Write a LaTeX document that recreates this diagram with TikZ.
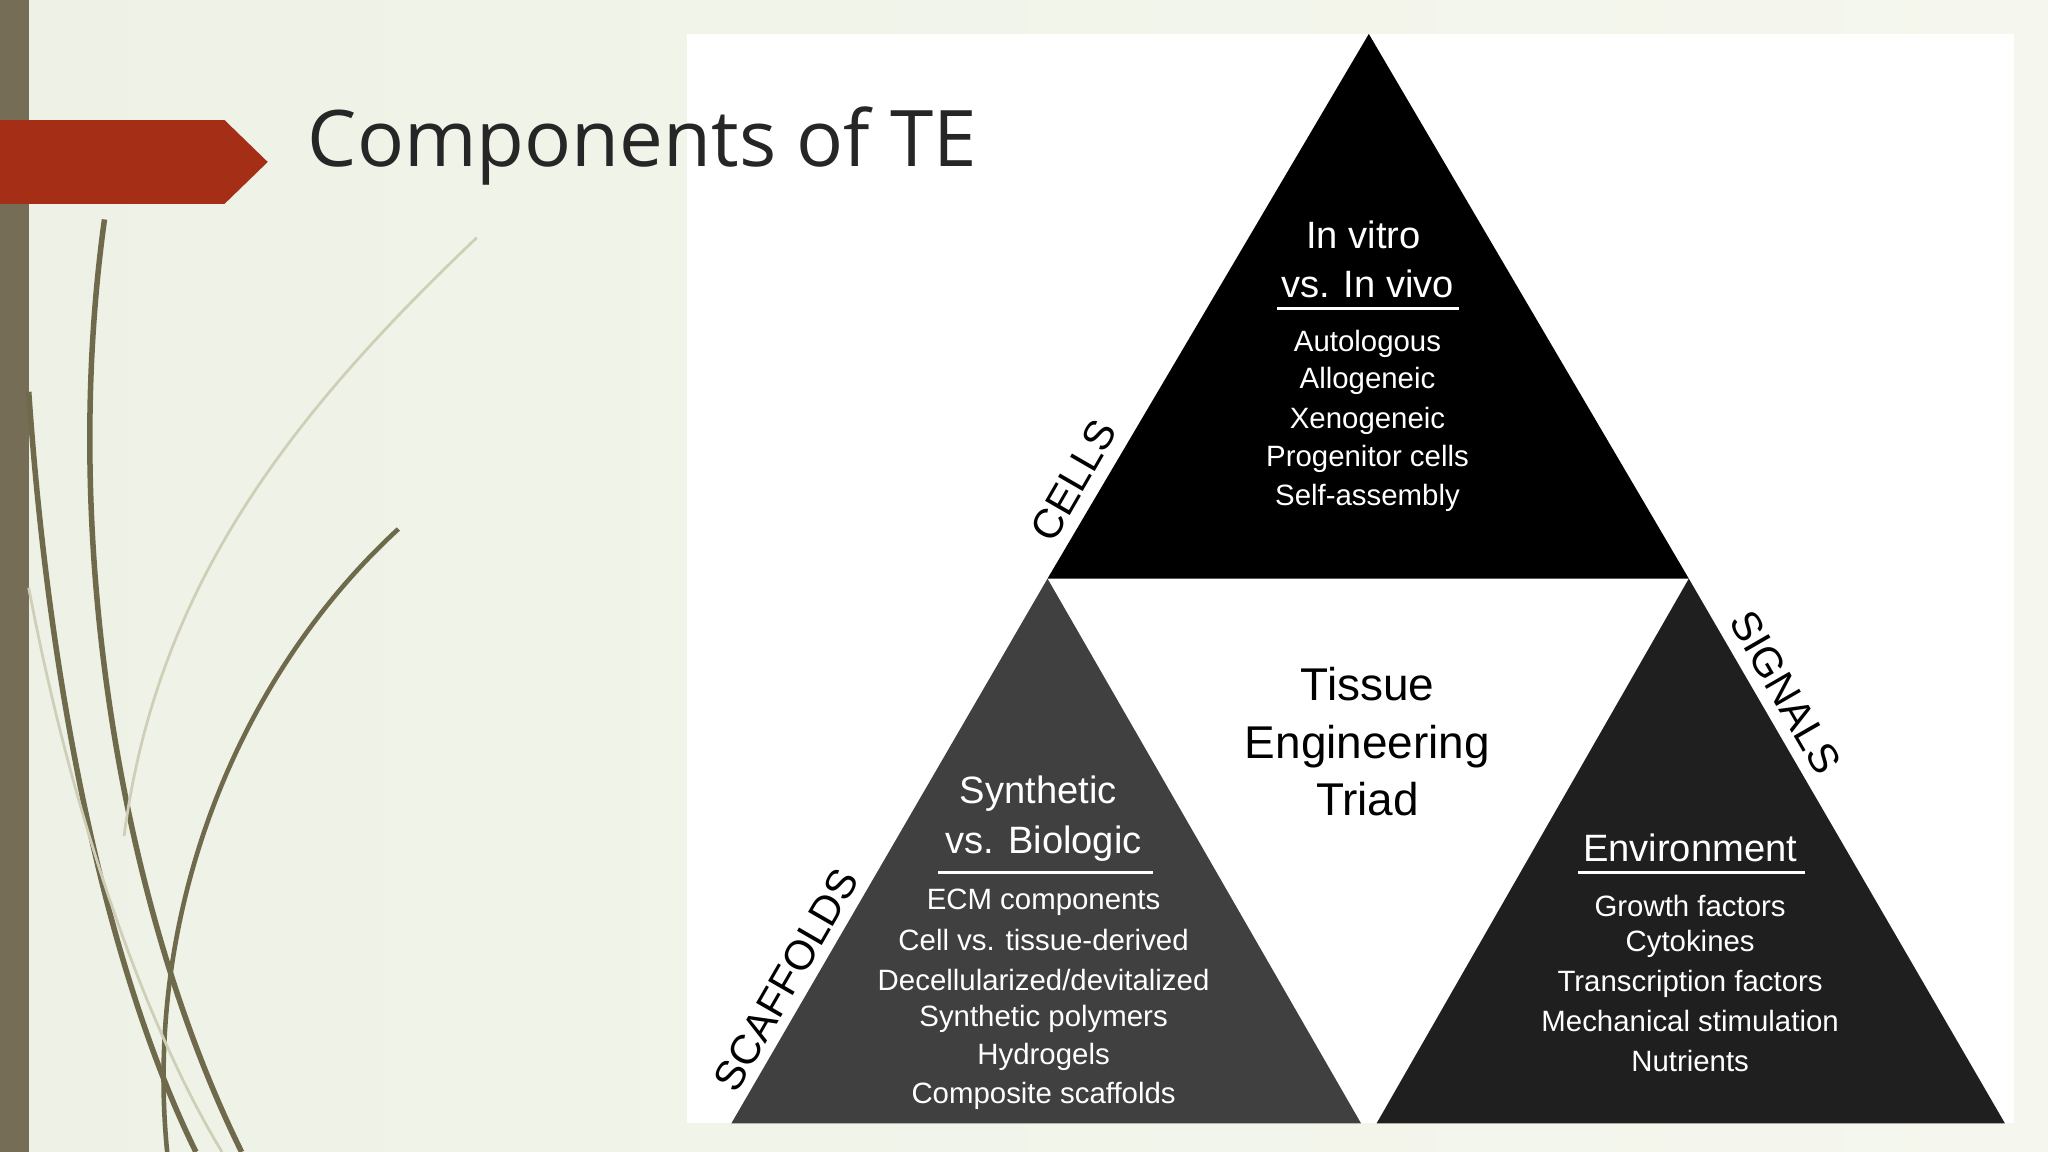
\documentclass[tikz,border=0pt]{standalone}
\usepackage{fontspec}
\setmainfont{Liberation Sans}
\newfontfamily\titlefont{Open Sans}
\definecolor{bgA}{HTML}{EEF2E6}
\definecolor{bgB}{HTML}{F5F7EE}
\definecolor{barC}{HTML}{756D55}
\definecolor{redC}{HTML}{A52F16}
\definecolor{curveD}{HTML}{6F6A4C}
\definecolor{curveL}{HTML}{CFCFB8}
\begin{document}
\begin{tikzpicture}[x=0.01cm,y=-0.01cm,
  hd/.style={text=white,font=\fontsize{8.3}{10}\selectfont,inner sep=0},
  li/.style={text=white,font=\fontsize{6.4}{8}\selectfont,inner sep=0},
  side/.style={text=black,font=\fontsize{9}{10}\selectfont,inner sep=0},
  deco/.style={draw=curveD,line width=0.6pt}]
\useasboundingbox (0,0) rectangle (1568,882);
\shade[left color=bgA,right color=bgB] (0,0) rectangle (1568,882);
\fill[barC] (0,0) rectangle (22,882);
% decorative curves
\draw[deco,line width=1.2pt] (80,168) .. controls (45,420) and (95,700) .. (185,882);
\draw[deco,line width=1.2pt] (22,300) .. controls (40,560) and (90,760) .. (150,882);
\draw[deco,draw=curveL] (365,182) .. controls (220,320) and (120,450) .. (95,640);
\draw[deco,line width=1pt] (305,405) .. controls (180,520) and (110,700) .. (128,882);
\draw[deco,draw=curveL] (22,450) .. controls (60,650) and (120,800) .. (170,882);
% red arrow
\fill[redC] (0,92) -- (172,92) -- (205,124) -- (172,156) -- (0,156) -- cycle;
% image
\fill[white] (526,26) rectangle (1542,860);
\fill[black] (1048,26) -- (1293,443) -- (802,443) -- cycle;
\fill[black!75] (802,443) -- (1042,860) -- (560,860) -- cycle;
\fill[black!88] (1293,443) -- (1535,860) -- (1054,860) -- cycle;
\node[anchor=west,inner sep=0,text=black!85,font=\titlefont\fontsize{17}{20}\selectfont] (title) at (235,112) {Components of TE};
% top
\node[hd] (t1) at (1044,180) {In vitro};
\node[hd] (t2) at (1047,217) {vs. In vivo};
\draw[white,line width=0.6pt] (978,236) -- (1117,236);
\foreach \t/\y in {Autologous/263,Allogeneic/292,Xenogeneic/322,Progenitor cells/351,Self-assembly/381}
  \node[li] at (1047,\y) {\t};
% left
\node[hd] (l1) at (795,608) {Synthetic};
\node[hd] (l2) at (799,646) {vs. Biologic};
\draw[white,line width=0.6pt] (718,668) -- (883,668);
\foreach \t/\y in {{ECM components}/691,{Cell vs. tissue-derived}/720,{Decellularized/devitalized}/750,{Synthetic polymers}/780,{Hydrogels}/809,{Composite scaffolds}/839}
  \node[li] at (799,\y) {\t};
% right
\node[hd] (r1) at (1294,649) {Environment};
\draw[white,line width=0.6pt] (1208,668) -- (1382,668);
\foreach \t/\y in {Growth factors/694,Cytokines/723,Transcription factors/753,Mechanical stimulation/782,Nutrients/812}
  \node[li] at (1294,\y) {\t};
% center
\node[text=black,font=\fontsize{10}{12.5}\selectfont,align=center,inner sep=0] (c) at (1047,568) {Tissue\\Engineering\\Triad};
% sides
\node[side,rotate=60] (cells) at (822,368) {CELLS};
\node[side,rotate=-60] (sig) at (1367,530) {SIGNALS};
\node[side,rotate=60] (scaf) at (602,750) {SCAFFOLDS};
\end{tikzpicture}
\end{document}
